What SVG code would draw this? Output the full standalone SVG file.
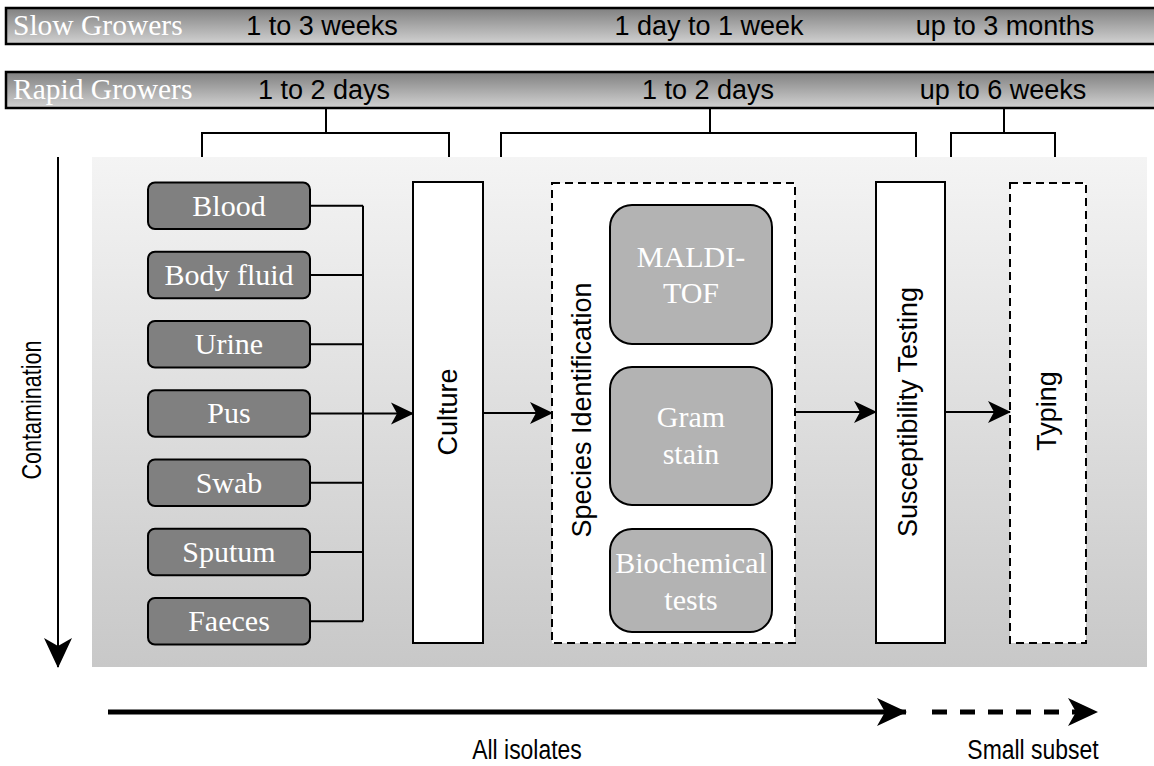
<svg xmlns="http://www.w3.org/2000/svg" width="1154" height="766" viewBox="0 0 1154 766">
  <defs>
    <linearGradient id="barFill" x1="0" y1="0" x2="0" y2="1">
      <stop offset="0" stop-color="#808080"/>
      <stop offset="1" stop-color="#d2d2d2"/>
    </linearGradient>
    <linearGradient id="panelFill" x1="0" y1="0" x2="0" y2="1">
      <stop offset="0" stop-color="#f4f4f4"/>
      <stop offset="1" stop-color="#c8c8c8"/>
    </linearGradient>
    <marker id="head" markerUnits="userSpaceOnUse" markerWidth="24" markerHeight="24" refX="22" refY="12" orient="auto">
      <path d="M0,1 L23,12 L0,23 L6,12 Z" fill="#000"/>
    </marker>
    <marker id="bigHead" markerUnits="userSpaceOnUse" markerWidth="32" markerHeight="32" refX="29" refY="16" orient="auto">
      <path d="M0,2 L30,16 L0,30 L8,16 Z" fill="#000"/>
    </marker>
    <style>
      .bar { fill: url(#barFill); stroke: #000; stroke-width: 2.5; }
      .barLabel { font-family: "Liberation Serif", "Times New Roman", serif; font-size: 29.5px; fill: #fff; }
      .dur { font-family: "Liberation Sans", Arial, sans-serif; font-size: 27px; fill: #000; text-anchor: middle; }
      .bracket { fill: none; stroke: #000; stroke-width: 2; }
      .sample rect { fill: #808080; stroke: #000; stroke-width: 2; }
      .sample text, .method text { font-family: "Liberation Serif", "Times New Roman", serif; font-size: 30px; fill: #fff; text-anchor: middle; }
      .method rect { fill: #b3b3b3; stroke: #000; stroke-width: 2; }
      .step { fill: #fff; stroke: #000; stroke-width: 2; }
      .dashed { stroke-dasharray: 8 5; }
      .vlabel { font-family: "Liberation Sans", Arial, sans-serif; font-size: 27px; fill: #000; text-anchor: middle; }
      .link { fill: none; stroke: #000; stroke-width: 2; }
      .axis { fill: none; stroke: #000; stroke-width: 5; }
      .axisLabel { font-family: "Liberation Sans", Arial, sans-serif; font-size: 27px; fill: #000; text-anchor: middle; }
    </style>
  </defs>

  <!-- growth-rate timelines -->
  <g id="slow-growers">
    <rect class="bar" x="6" y="8" width="1160" height="36"/>
    <text class="barLabel" x="13" y="35">Slow Growers</text>
    <text class="dur" x="322" y="35">1 to 3 weeks</text>
    <text class="dur" x="709" y="35">1 day to 1 week</text>
    <text class="dur" x="1005" y="35">up to 3 months</text>
  </g>
  <g id="rapid-growers">
    <rect class="bar" x="6" y="72" width="1160" height="36"/>
    <text class="barLabel" x="13" y="99">Rapid Growers</text>
    <text class="dur" x="324" y="99">1 to 2 days</text>
    <text class="dur" x="708" y="99">1 to 2 days</text>
    <text class="dur" x="1003" y="99">up to 6 weeks</text>
  </g>

  <!-- brackets tying durations to stages -->
  <g id="brackets">
    <path class="bracket" d="M202,157 V133 H449 V157 M326,108 V133"/>
    <path class="bracket" d="M501,157 V133 H916 V157 M710,108 V133"/>
    <path class="bracket" d="M951,157 V133 H1055 V157 M1004,108 V133"/>
  </g>

  <!-- background panel -->
  <rect id="panel" x="92" y="157" width="1055" height="510" fill="url(#panelFill)"/>

  <!-- contamination axis (condensed label) -->
  <g id="contamination">
    <line class="link" x1="58" y1="157" x2="58" y2="667" stroke-width="4" marker-end="url(#bigHead)"/>
    <text class="axisLabel" transform="translate(41,410) rotate(-90) scale(0.8,1)">Contamination</text>
  </g>

  <!-- specimen types -->
  <g id="blood" class="sample"><rect x="148" y="182.5" width="162" height="46.5" rx="7"/><text x="229" y="215.5">Blood</text></g>
  <g id="body-fluid" class="sample"><rect x="148" y="251.75" width="162" height="46.5" rx="7"/><text x="229" y="284.75">Body fluid</text></g>
  <g id="urine" class="sample"><rect x="148" y="321" width="162" height="46.5" rx="7"/><text x="229" y="354">Urine</text></g>
  <g id="pus" class="sample"><rect x="148" y="390.25" width="162" height="46.5" rx="7"/><text x="229" y="423.25">Pus</text></g>
  <g id="swab" class="sample"><rect x="148" y="459.5" width="162" height="46.5" rx="7"/><text x="229" y="492.5">Swab</text></g>
  <g id="sputum" class="sample"><rect x="148" y="528.75" width="162" height="46.5" rx="7"/><text x="229" y="561.75">Sputum</text></g>
  <g id="faeces" class="sample"><rect x="148" y="598" width="162" height="46.5" rx="7"/><text x="229" y="631">Faeces</text></g>

  <!-- processing stages -->
  <g id="culture">
    <rect class="step" x="413" y="182" width="70" height="461"/>
    <text class="vlabel" transform="translate(457,412) rotate(-90)">Culture</text>
  </g>
  <g id="species-identification">
    <rect class="step dashed" x="552" y="183" width="243" height="460"/>
    <text class="vlabel" transform="translate(591,410) rotate(-90)">Species Identification</text>
  </g>
  <g id="maldi-tof" class="method">
    <rect x="610" y="205" width="162" height="139" rx="22"/>
    <text x="691" y="267">MALDI-</text>
    <text x="691" y="303">TOF</text>
  </g>
  <g id="gram-stain" class="method">
    <rect x="610" y="367" width="162" height="138" rx="22"/>
    <text x="691" y="427">Gram</text>
    <text x="691" y="464">stain</text>
  </g>
  <g id="biochemical-tests" class="method">
    <rect x="610" y="529" width="162" height="103" rx="22"/>
    <text x="691" y="573">Biochemical</text>
    <text x="691" y="610">tests</text>
  </g>
  <g id="susceptibility-testing">
    <rect class="step" x="876" y="182" width="69" height="461"/>
    <text class="vlabel" transform="translate(917,412) rotate(-90)">Susceptibility Testing</text>
  </g>
  <g id="typing">
    <rect class="step dashed" x="1010" y="183" width="76" height="460"/>
    <text class="vlabel" transform="translate(1056,411) rotate(-90)">Typing</text>
  </g>

  <!-- connectors -->
  <g id="connectors">
    <path class="link" d="M310,205.75 H363 M310,275 H363 M310,344.25 H363 M310,482.75 H363 M310,552 H363 M310,621.25 H363 M363,205.75 V621.25"/>
    <path class="link" d="M310,413.5 H413" marker-end="url(#head)"/>
    <path class="link" d="M483,413 H552" marker-end="url(#head)"/>
    <path class="link" d="M795,412 H876" marker-end="url(#head)"/>
    <path class="link" d="M945,412 H1010" marker-end="url(#head)"/>
  </g>

  <!-- isolate coverage axis (condensed labels) -->
  <g id="coverage">
    <line class="axis" x1="108" y1="712" x2="906" y2="712" marker-end="url(#bigHead)"/>
    <line class="axis" x1="932" y1="712" x2="1097" y2="712" stroke-dasharray="15 13" marker-end="url(#bigHead)"/>
    <text class="axisLabel" transform="translate(527,759) scale(0.85,1)">All isolates</text>
    <text class="axisLabel" transform="translate(1033,759) scale(0.85,1)">Small subset</text>
  </g>
</svg>
